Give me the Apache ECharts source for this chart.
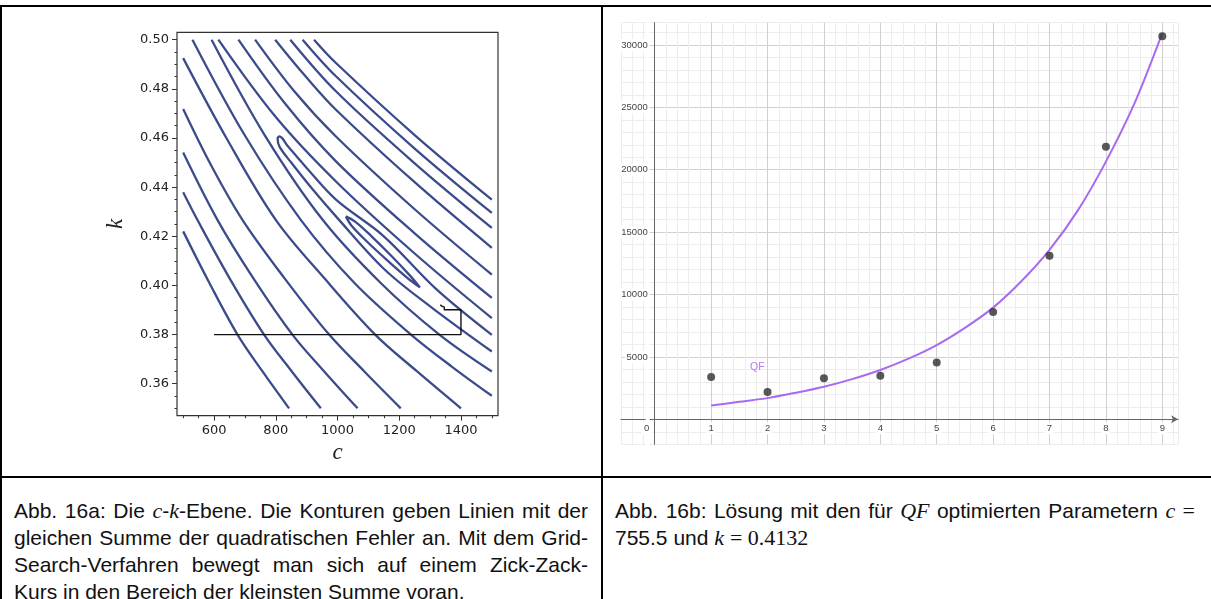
<!DOCTYPE html>
<html>
<head>
<meta charset="utf-8">
<script src="https://cdn.jsdelivr.net/npm/echarts@6/dist/echarts.min.js"></script>
<style>
html,body{margin:0;padding:0;background:#fff;}
body{width:1211px;height:599px;position:relative;overflow:hidden;font-family:"Liberation Sans",Arial,sans-serif;}
#chart{position:absolute;left:0;top:0;width:1211px;height:476px;}
.b{position:absolute;background:#000;z-index:5;}
.cap{position:absolute;top:497px;font-size:21px;line-height:27px;color:#111;}
.cap div{text-align:justify;text-align-last:justify;}
.cap div.last{text-align:left;text-align-last:left;}
.m{font-family:"Liberation Serif","DejaVu Serif",serif;font-style:italic;font-size:22px;}
.mu{font-family:"Liberation Serif","DejaVu Serif",serif;font-size:22px;}
</style>
</head>
<body>
<div id="chart"></div>
<div class="b" style="left:0;top:5px;width:1211px;height:2px;"></div>
<div class="b" style="left:0;top:5px;width:2px;height:594px;"></div>
<div class="b" style="left:601px;top:5px;width:2px;height:594px;"></div>
<div class="b" style="left:0;top:476px;width:1211px;height:2px;"></div>
<div class="cap" style="left:14px;width:574px;">
<div>Abb. 16a: Die <span class="m">c</span>-<span class="m">k</span>-Ebene. Die Konturen geben Linien mit der</div>
<div>gleichen Summe der quadratischen Fehler an. Mit dem Grid-</div>
<div>Search-Verfahren bewegt man sich auf einem Zick-Zack-</div>
<div class="last">Kurs in den Bereich der kleinsten Summe voran.</div>
</div>
<div class="cap" style="left:615px;width:580px;">
<div>Abb. 16b: Lösung mit den für <span class="m">QF</span> optimierten Parametern <span class="m">c</span> <span class="mu">=</span></div>
<div class="last">755.5 und <span class="m">k</span> <span class="mu">= 0.4132</span></div>
</div>
<script>
// ---- Left chart: contour lines in the c-k plane ----
const cTicks = [600, 800, 1000, 1200, 1400];
const cMinorTicks = [500,550,600,650,700,750,800,850,900,950,1000,1050,1100,1150,1200,1250,1300,1350,1400,1450,1500];
const kTicks = [0.36, 0.38, 0.40, 0.42, 0.44, 0.46, 0.48, 0.50];
const kMinorTicks = [0.350,0.355,0.360,0.365,0.370,0.375,0.380,0.385,0.390,0.395,0.400,0.405,0.410,0.415,0.420,0.425,0.430,0.435,0.440,0.445,0.450,0.455,0.460,0.465,0.470,0.475,0.480,0.485,0.490,0.495,0.500];

const contourA = [[500,0.4220],[585,0.4010],[676,0.3800],[757,0.3650],[843,0.3500]];
const contourB = [[500,0.4379],[546,0.4267],[650,0.4030],[762,0.3800],[852,0.3650],[946,0.3500]];
const contourC = [[500,0.4541],[611,0.4267],[727,0.4030],[854,0.3800],[957,0.3650],[1065,0.3500]];
const contourD = [[500,0.4718],[590,0.4490],[692,0.4267],[828,0.4030],[973,0.3800],[1087,0.3650],[1205,0.3500]];
const contourE = [[500,0.4925],[640,0.4600],[800,0.4267],[957,0.4030],[1122,0.3800],[1258,0.3650],[1400,0.3500]];
const contourF = [[530,0.5000],[700,0.4610],[881,0.4267],[1055,0.4010],[1238,0.3800],[1370,0.3670],[1500,0.3551]];
const contourG = [[592,0.5000],[765,0.4610],[952,0.4267],[1140,0.4010],[1330,0.3800],[1500,0.3650]];
const contourU = [[1500,0.3799],[1320,0.3985],[1150,0.4200],[995,0.4349],[900,0.4478],[840,0.4565],[812,0.4606],[806,0.4598],[812,0.4565],[850,0.4500],[920,0.4390],[995,0.4281],[1150,0.4068],[1300,0.3915],[1500,0.3731]];
const contourO = [[1027,0.4281],[1057,0.4260],[1107,0.4204],[1178,0.4116],[1235,0.4040],[1267,0.3992],[1227,0.4030],[1164,0.4099],[1091,0.4184],[1045,0.4244],[1027,0.4281]];
const contourH = [[614,0.5000],[800,0.4685],[995,0.4423],[1250,0.4130],[1500,0.3867]];
const contourI = [[679,0.5000],[830,0.4740],[995,0.4505],[1250,0.4212],[1500,0.3949]];
const contourJ = [[733,0.5000],[860,0.4790],[995,0.4606],[1250,0.4310],[1500,0.4044]];
const contourK = [[798,0.5000],[895,0.4853],[995,0.4715],[1250,0.4420],[1500,0.4153]];
const contourL = [[847,0.5000],[995,0.4790],[1250,0.4497],[1500,0.4234]];
const contourM = [[887,0.5000],[995,0.4851],[1250,0.4557],[1500,0.4295]];
const contourN = [[924,0.5000],[995,0.4905],[1250,0.4612],[1500,0.4349]];
const gridSearchPath = [[600,0.3800],[1400,0.3800],[1400,0.3901],[1346,0.3901],[1346,0.3912],[1338,0.3916],[1333,0.3921]];

// ---- Right chart: data points and QF curve ----
const pointX = [1, 2, 3, 4, 5, 6, 7, 8, 9];
const pointY = [3400, 2200, 3300, 3500, 4550, 8600, 13100, 21850, 30700];
const qfX = [1, 1.5, 2, 2.5, 3, 3.5, 4, 4.5, 5, 5.5, 6, 6.5, 7, 7.5, 8, 8.5, 9];
const qfY = [1100, 1400, 1700, 2130, 2610, 3220, 3950, 4860, 5950, 7330, 8950, 11060, 13580, 16720, 20650, 25250, 30950];
const qfLabelPos = [1.82, 4200];

const contourColor = '#3c4b8b';
const contours = [contourA, contourB, contourC, contourD, contourE, contourF, contourG, contourU, contourO,
                  contourH, contourI, contourJ, contourK, contourL, contourM, contourN];

const series = contours.map(d => ({
  type: 'line', xAxisIndex: 0, yAxisIndex: 0, data: d, smooth: 0.35,
  showSymbol: false, symbol: 'none', lineStyle: {color: contourColor, width: 2.3}, silent: true
}));
series.push({
  type: 'line', xAxisIndex: 0, yAxisIndex: 0, data: gridSearchPath, smooth: false,
  showSymbol: false, symbol: 'none', lineStyle: {color: '#111', width: 1.4}, z: 3
});
series.push({
  type: 'line', xAxisIndex: 2, yAxisIndex: 2, data: qfX.map((x, i) => [x, qfY[i]]), smooth: 0.3,
  showSymbol: false, symbol: 'none', lineStyle: {color: '#a86af0', width: 2}, z: 3
});
series.push({
  type: 'scatter', xAxisIndex: 2, yAxisIndex: 2, data: pointX.map((x, i) => [x, pointY[i]]),
  symbolSize: 8, itemStyle: {color: '#2e2e2e'}, z: 4
});
series.push({
  type: 'scatter', xAxisIndex: 2, yAxisIndex: 2, data: [qfLabelPos], symbolSize: 1,
  itemStyle: {color: 'rgba(0,0,0,0)'},
  label: {show: true, position: 'inside', formatter: 'QF', color: '#a259f0', fontSize: 10.5, fontFamily: 'Liberation Sans'}
});

const minorC = '#ededed', majorC = '#d0d0d0';
const tickFont = {fontFamily: 'DejaVu Sans', fontSize: 13, color: '#222'};
const ggLabel = {backgroundColor: '#fff', padding: [1, 2], fontSize: 9.5, color: '#444', fontFamily: 'Liberation Sans'};

// right grid geometry (pixels) — y=0 line sits 25px above the grid bottom, x=0 line 33.8px right of grid left
const rGrid = {left: 620.9, top: 22.7, width: 557.2, height: 421.6};

const option = {
  animation: false,
  grid: [
    {left: 177, top: 32.3, width: 321, height: 383.4, show: true, borderColor: '#333', borderWidth: 1.2, containLabel: false, outerBoundsMode: 'none'},
    Object.assign({show: false, containLabel: false, outerBoundsMode: 'none'}, rGrid)
  ],
  xAxis: [
    {gridIndex: 0, type: 'value', position: 'bottom', min: 480, max: 1520,
     axisLine: {show: false, onZero: false},
     axisTick: {show: true, length: 5, customValues: cTicks, lineStyle: {color: '#333', width: 1}},
     axisLabel: Object.assign({customValues: cTicks, margin: 8, formatter: v => String(v)}, tickFont),
     splitLine: {show: false},
     name: 'c', nameLocation: 'middle', nameGap: 26,
     nameTextStyle: {fontFamily: 'Liberation Serif', fontStyle: 'italic', fontSize: 23, color: '#222'}},
    {gridIndex: 0, type: 'value', position: 'bottom', min: 480, max: 1520,
     axisLine: {show: false, onZero: false},
     axisTick: {show: true, length: 2.5, customValues: cMinorTicks, lineStyle: {color: '#333', width: 1}},
     axisLabel: {show: false}, splitLine: {show: false}},
    {gridIndex: 1, type: 'value', position: 'bottom', min: -0.6, max: 9.28, interval: 0.2, offset: -25,
     axisLine: {show: true, onZero: false, lineStyle: {color: '#666', width: 1}, symbol: ['none', 'arrow'], symbolSize: [6, 7]},
     axisTick: {show: false},
     axisLabel: {interval: 0, margin: 3,
       formatter: v => {
         const r = Math.round(v);
         if (Math.abs(v - r) > 1e-6 || r < 0) return '';
         return r === 0 ? '{n|0}{s|}' : '{n|' + r + '}';
       },
       rich: {n: ggLabel, s: {width: 16, height: 8}}},
     splitLine: {show: true, lineStyle: {color: [minorC, minorC, minorC, majorC, minorC], width: 1}}}
  ],
  yAxis: [
    {gridIndex: 0, type: 'value', position: 'left', min: 0.347, max: 0.503,
     axisLine: {show: false, onZero: false},
     axisTick: {show: true, length: 5, customValues: kTicks, lineStyle: {color: '#333', width: 1}},
     axisLabel: Object.assign({customValues: kTicks, margin: 8, formatter: v => v.toFixed(2)}, tickFont),
     splitLine: {show: false},
     name: 'k', nameLocation: 'middle', nameGap: 50, nameRotate: 90,
     nameTextStyle: {fontFamily: 'Liberation Serif', fontStyle: 'italic', fontSize: 23, color: '#222'}},
    {gridIndex: 0, type: 'value', position: 'left', min: 0.347, max: 0.503,
     axisLine: {show: false, onZero: false},
     axisTick: {show: true, length: 2.5, customValues: kMinorTicks, lineStyle: {color: '#333', width: 1}},
     axisLabel: {show: false}, splitLine: {show: false}},
    {gridIndex: 1, type: 'value', position: 'left', min: -2000, max: 31780, interval: 1000, offset: -33.8,
     axisLine: {show: true, onZero: false, lineStyle: {color: '#666', width: 1}},
     axisTick: {show: false},
     axisLabel: Object.assign({interval: 0, margin: 5,
       formatter: v => (v > 0 && v % 5000 === 0) ? String(v) : ''}, ggLabel),
     splitLine: {show: true, lineStyle: {color: [minorC, minorC, majorC, minorC, minorC], width: 1}}}
  ],
  series: series
};

const chart = echarts.init(document.getElementById('chart'), null, {renderer: 'canvas'});
chart.setOption(option);
</script>
</body>
</html>
